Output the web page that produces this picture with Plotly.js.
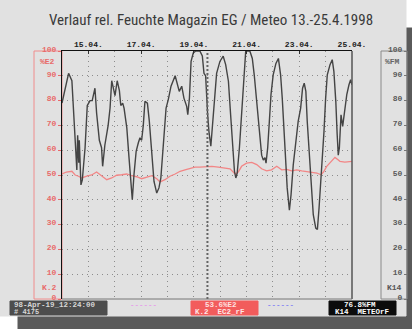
<!DOCTYPE html>
<html>
<head>
<meta charset="utf-8">
<script src="https://cdn.plot.ly/plotly-3.0.1.min.js"></script>
<style>
html,body{margin:0;padding:0;background:#ffffff;}
#chart{width:412px;height:329px;}
</style>
</head>
<body>
<div id="chart"></div>
<script>
// ---------- DATA ----------
const titleText = 'Verlauf rel. Feuchte Magazin EG / Meteo 13.-25.4.1998';
const xRange = ['1998-04-14 00:00', '1998-04-25 00:00'];
const cursorTime = '1998-04-19 12:24';

// Meteo rel. humidity (K14, %FM) - dark line
const meteoTime = [
'1998-04-14 00:00','1998-04-14 06:00','1998-04-14 09:00','1998-04-14 11:00','1998-04-14 13:00','1998-04-14 13:30',
'1998-04-14 14:15','1998-04-14 15:15','1998-04-14 15:45','1998-04-14 17:15','1998-04-14 18:30','1998-04-14 21:00',
'1998-04-14 23:00','1998-04-15 01:30','1998-04-15 03:30','1998-04-15 06:00','1998-04-15 07:30','1998-04-15 10:00',
'1998-04-15 12:00','1998-04-15 13:00','1998-04-15 15:00','1998-04-15 18:00','1998-04-15 19:45','1998-04-15 21:15',
'1998-04-15 22:45','1998-04-16 00:15','1998-04-16 02:15','1998-04-16 04:15','1998-04-16 05:30','1998-04-16 07:15',
'1998-04-16 08:30','1998-04-16 11:00','1998-04-16 13:00','1998-04-16 14:30','1998-04-16 16:00','1998-04-16 17:30',
'1998-04-16 19:30','1998-04-16 21:30','1998-04-16 23:00','1998-04-17 00:30','1998-04-17 02:00','1998-04-17 03:30',
'1998-04-17 05:45','1998-04-17 07:30','1998-04-17 09:45','1998-04-17 11:45','1998-04-17 14:15','1998-04-17 16:15',
'1998-04-17 18:00','1998-04-17 20:15','1998-04-17 22:45','1998-04-18 00:45','1998-04-18 03:15','1998-04-18 07:00',
'1998-04-18 09:00','1998-04-18 10:45','1998-04-18 13:00','1998-04-18 15:00','1998-04-18 17:30','1998-04-18 18:30',
'1998-04-18 20:00','1998-04-18 21:30','1998-04-18 23:30','1998-04-19 01:45','1998-04-19 05:30','1998-04-19 07:45',
'1998-04-19 09:15','1998-04-19 10:45','1998-04-19 12:30','1998-04-19 13:45','1998-04-19 15:30','1998-04-19 16:45',
'1998-04-19 18:45','1998-04-19 20:45','1998-04-19 23:45','1998-04-20 02:45','1998-04-20 05:00','1998-04-20 07:30',
'1998-04-20 09:30','1998-04-20 11:30','1998-04-20 13:00','1998-04-20 14:15','1998-04-20 15:30','1998-04-20 17:30',
'1998-04-20 19:30','1998-04-20 21:45','1998-04-20 23:15','1998-04-21 03:00','1998-04-21 05:15','1998-04-21 07:00',
'1998-04-21 08:30','1998-04-21 10:15','1998-04-21 12:15','1998-04-21 13:45','1998-04-21 15:15','1998-04-21 16:45',
'1998-04-21 17:45','1998-04-21 19:15','1998-04-21 20:45','1998-04-21 22:15','1998-04-22 00:15','1998-04-22 02:45',
'1998-04-22 05:00','1998-04-22 07:00','1998-04-22 08:30','1998-04-22 10:00','1998-04-22 11:30','1998-04-22 13:00',
'1998-04-22 15:00','1998-04-22 16:30','1998-04-22 18:30','1998-04-22 20:45','1998-04-22 23:00','1998-04-23 01:15',
'1998-04-23 03:00','1998-04-23 04:30','1998-04-23 06:00','1998-04-23 07:15','1998-04-23 09:00','1998-04-23 10:45',
'1998-04-23 12:45','1998-04-23 15:00','1998-04-23 16:30','1998-04-23 18:00','1998-04-23 19:45','1998-04-23 21:00',
'1998-04-23 22:30','1998-04-24 00:00','1998-04-24 01:30','1998-04-24 04:00','1998-04-24 06:00','1998-04-24 07:30',
'1998-04-24 09:15','1998-04-24 10:30','1998-04-24 11:30','1998-04-24 12:30','1998-04-24 14:00','1998-04-24 15:30',
'1998-04-24 17:00','1998-04-24 19:15','1998-04-24 21:15','1998-04-24 22:45','1998-04-25 00:00'
];
const meteoRF = [
79,91,88,74,56,52,
66,55,64,46,48,61,
78,80,80,85,75,64,
61,53.5,62,70,77,88,
85,82,88,84,78,79,
77,69,57,47,40,50,
59.5,63,65,64,70,79.7,
79,71.6,57,47.4,42.7,44.8,
48.8,61,77,80.4,85.8,90,
86.4,83.7,85.8,81,77.7,74.3,
81,95.8,99.2,100,100,98,
91,90,75,67.6,61.6,69,
82.4,91,95.8,97.9,94.5,87.8,
74.3,61,51.5,48.8,50.8,61,
75.7,93,100,100,97,90.4,
83.7,74.3,65,58,56,57,
54.8,61,71.6,82.4,90.4,95,
97,90.4,81,67.6,55.5,44.8,
35.8,42,54,63.6,71.6,77,
85,87,83.7,71.6,58,44.8,
34,28.6,28,36.7,47.4,57,
67.6,81,90.4,94.5,96.5,91.8,
79.7,66.3,58,61,74.3,69.6,
75.7,82.4,86.4,88.4,86.4
];

// Magazin EG rel. humidity (K.2, %E2) - red line
const ec2Time = [
'1998-04-14 00:00','1998-04-14 04:00','1998-04-14 09:00','1998-04-14 12:00','1998-04-14 15:00','1998-04-14 18:00',
'1998-04-14 22:30','1998-04-15 03:00','1998-04-15 07:30','1998-04-15 10:00','1998-04-15 13:00','1998-04-15 16:45',
'1998-04-15 21:15','1998-04-16 01:45','1998-04-16 06:15','1998-04-16 11:00','1998-04-16 15:30','1998-04-16 20:00',
'1998-04-17 00:30','1998-04-17 05:00','1998-04-17 09:45','1998-04-17 14:15','1998-04-17 17:15','1998-04-17 21:45',
'1998-04-18 02:15','1998-04-18 07:00','1998-04-18 11:30','1998-04-18 16:00','1998-04-18 20:30','1998-04-19 01:00',
'1998-04-19 05:30','1998-04-19 11:45','1998-04-19 16:30','1998-04-19 22:15','1998-04-20 03:30','1998-04-20 09:00',
'1998-04-20 13:30','1998-04-20 16:30','1998-04-20 19:30','1998-04-21 00:00','1998-04-21 04:45','1998-04-21 09:15',
'1998-04-21 13:45','1998-04-21 18:15','1998-04-21 22:45','1998-04-22 03:30','1998-04-22 08:00','1998-04-22 12:30',
'1998-04-22 17:00','1998-04-22 21:45','1998-04-23 02:15','1998-04-23 06:45','1998-04-23 11:15','1998-04-23 16:00',
'1998-04-23 19:45','1998-04-23 22:00','1998-04-24 01:00','1998-04-24 05:00','1998-04-24 08:30','1998-04-24 11:00',
'1998-04-24 13:00','1998-04-24 17:30','1998-04-25 00:00'
];
const ec2RF = [
50.4,51.2,51.5,50,49.5,48.8,
49.5,50,51.2,50.4,49.5,48.1,
48.8,49.9,50.1,50.4,49.7,49.3,
48.5,49.2,49.7,48.5,47.2,48.1,
49.5,50.4,51.5,52.1,52.8,53.2,
53.2,53.5,53.5,53.2,53,52.5,
50.4,51.2,53.5,54.8,55.1,54.2,
52.5,51.7,52.1,53.5,52.1,52.3,
51.7,52.1,51.7,51.4,51.2,50.8,
50.1,51.2,53.5,55.5,57.1,56.2,
55.5,55.2,55.5
];

const statusTime = '98-Apr-19_12:24:00';
const statusCount = '# 4175';
const ec2Reading = '53.6%E2';
const ec2Label = 'K.2  EC2_rF';
const meteoReading = '76.8%FM';
const meteoLabel = 'K14  METEOrF';

// ---------- LAYOUT HELPERS ----------
const W = 412, H = 329;
const M = {l:34, r:5, t:51, b:30};
const PW = W - M.l - M.r, PH = H - M.t - M.b;
const px = x => (x - M.l) / PW;
const py = y => (H - M.b - y) / PH;

const mono = 'Liberation Mono, DejaVu Sans Mono, monospace';
const RED = '#e86a6a';
const GRID = '#8c8c8c';
const PANEL = '#e1e1e1';

const traces = [
  {x: ec2Time, y: ec2RF, type:'scatter', mode:'lines', xaxis:'x', yaxis:'y',
   line:{color:'#f28686', width:1.3}, hoverinfo:'skip'},
  {x: meteoTime, y: meteoRF, type:'scatter', mode:'lines', xaxis:'x', yaxis:'y2',
   line:{color:'#444444', width:1.4}, hoverinfo:'skip'}
];

function txt(text, x, y, color, anchor, size) {
  return {text:text, xref:'paper', yref:'paper', x:px(x), y:py(y),
    xanchor:anchor||'left', yanchor:'middle', showarrow:false,
    font:{family:mono, size:size||8, color:color, weight:'bold'}};
}
function box(x0,y0,x1,y1,fill,line,layer){
  return {type:'rect', xref:'paper', yref:'paper', x0:px(x0), x1:px(x1), y0:py(y1), y1:py(y0),
    fillcolor:fill, line:{color:line||fill, width:1}, layer:layer||'below'};
}

const shapes = [
  box(18,28,412,329,'#5a5a5a'),          // shadow
  box(0,0,406,316,PANEL),                 // panel
  box(34,51,62,299,'rgba(0,0,0,0)','#f08c8c'), // left axis box
  box(381,51,407,299,'rgba(0,0,0,0)','#8a8a8a'), // right axis box
  box(10,301,107,315,'#4d4d4d'),
  box(191,301,258,315,'#f25c5c'),
  box(329,301,396,315,'#0c0c0c'),
  {type:'line', xref:'paper', yref:'paper', x0:px(352), x1:px(352), y0:0, y1:1, line:{color:'#555', width:1.5}, layer:'above'},
  {type:'line', xref:'paper', yref:'paper', x0:px(62), x1:px(352), y0:0, y1:0, line:{color:'#777', width:1}, layer:'above'},
  {type:'line', xref:'x', yref:'paper', x0:cursorTime, x1:cursorTime, y0:0, y1:1,
   line:{color:'#666', width:2, dash:'2px,2px'}, layer:'above'}
];

const annotations = [
  txt('%E2', 38, 62, RED),
  txt('K.2', 40, 287, RED),
  txt('%FM', 383, 62, '#666'),
  txt('K14', 385, 287, '#555'),
  txt(statusTime, 12, 304.5, '#d6d6d6', 'left', 7.5),
  txt(statusCount, 12, 312, '#d6d6d6', 'left', 7),
  txt('------', 128, 304.5, '#e6a0ea', 'left', 7.5),
  txt(ec2Reading, 203, 304.5, '#ffe0e0', 'left', 7.5),
  txt(ec2Label, 193, 312, '#ffe6e6', 'left', 7.5),
  txt('------', 265, 304.5, '#8a8af2', 'left', 7.5),
  txt(meteoReading, 342, 304.5, '#ffffff', 'left', 7.5),
  txt(meteoLabel, 333, 312, '#ffffff', 'left', 7.5)
];

const layout = {
  width: W, height: H,
  margin: {l:M.l, r:M.r, t:M.t, b:M.b, pad:0},
  paper_bgcolor:'#ffffff',
  plot_bgcolor: PANEL,
  showlegend:false,
  title:{text:titleText, xref:'container', yref:'container', x:211/W, y:1-20/H,
         xanchor:'center', yanchor:'middle',
         font:{family:'Liberation Sans Narrow, Arial Narrow, Roboto Condensed, Open Sans, sans-serif', size:15, color:'#3a3a3a'}},
  xaxis:{
    type:'date', domain:[px(62), px(352)], range:xRange, side:'top', anchor:'y',
    tick0:'1998-04-15', dtick:2*86400000, tickformat:'%d.%m.',
    tickfont:{family:mono, size:8, color:'#222', weight:'bold'},
    ticks:'inside', ticklen:3, tickcolor:'#333',
    showgrid:true, gridcolor:GRID, gridwidth:1, griddash:'1px,4px',
    minor:{tick0:'1998-04-15', dtick:86400000, showgrid:true, gridcolor:GRID, gridwidth:1, griddash:'1px,4px'},
    showline:true, linecolor:'#111', linewidth:1, zeroline:false, fixedrange:true
  },
  yaxis:{
    range:[0,100], dtick:10, anchor:'x', side:'left',
    tickfont:{family:mono, size:8, color:RED, weight:'bold'},
    ticks:'outside', ticklen:3, tickcolor:RED, ticklabelshift:-2,
    showgrid:true, gridcolor:GRID, gridwidth:1, griddash:'1px,4px',
    showline:true, linecolor:'#111', linewidth:1, zeroline:false, fixedrange:true
  },
  yaxis2:{
    range:[0,100], dtick:10, overlaying:'y', side:'left', anchor:'free', position:1,
    tickfont:{family:mono, size:8, color:'#5a5a5a', weight:'bold'},
    ticks:'outside', ticklen:3, tickcolor:'#777', ticklabelshift:-2,
    showgrid:false, showline:false, zeroline:false, fixedrange:true
  },
  shapes: shapes,
  annotations: annotations
};

Plotly.newPlot('chart', traces, layout, {displayModeBar:false, staticPlot:true});
</script>
</body>
</html>
